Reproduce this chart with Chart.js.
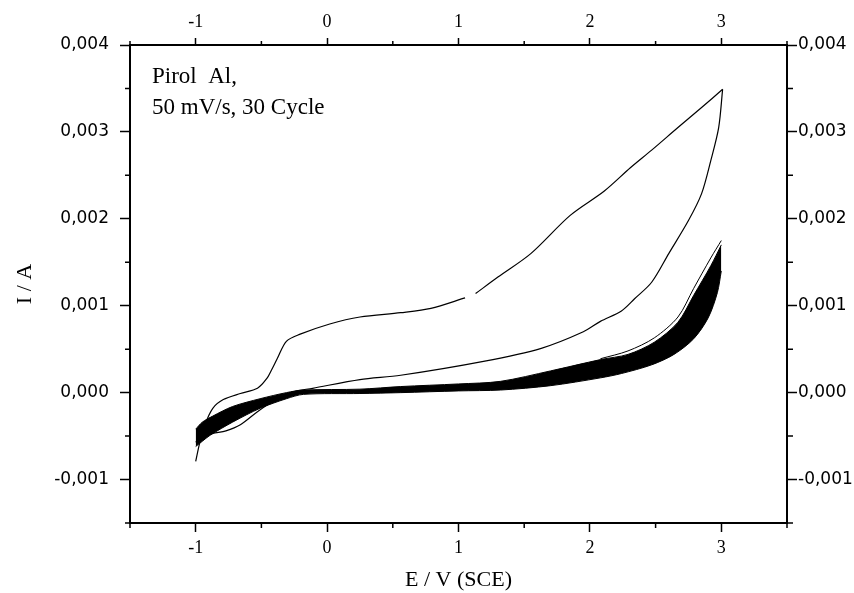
<!DOCTYPE html>
<html>
<head>
<meta charset="utf-8">
<script src="https://cdn.jsdelivr.net/npm/chart.js@4.4.1/dist/chart.umd.min.js"></script>
<style>
  html, body { margin: 0; padding: 0; background: #fff; }
  canvas { display: block; }
</style>
</head>
<body>
<canvas id="cv" width="854" height="593"></canvas>
<script>
// cycle 1, anodic scan (E / V, I / A)
const cycle1FwdE = [-1.00, -0.97, -0.93, -0.87, -0.79, -0.66, -0.53, -0.46, -0.42, -0.38, -0.31, -0.21, 0.02, 0.25, 0.56, 0.79, 1.05, 1.09, 1.13, 1.30, 1.55, 1.85, 2.11, 2.31, 2.47, 2.67, 2.85, 3.01];
const cycle1FwdI = [-0.00079, -0.00058, -0.00037, -0.00018, -0.00008, -0.00001, 0.00005, 0.00016, 0.00027, 0.00039, 0.00059, 0.00067, 0.00079, 0.00087, 0.00092, 0.00097, 0.00109, null, 0.00114, 0.00133, 0.00160, 0.00204, 0.00232, 0.00259, 0.00279, 0.00305, 0.00328, 0.00349];

// cycle 1, return scan
const cycle1RevE = [3.01, 2.98, 2.92, 2.85, 2.75, 2.60, 2.47, 2.34, 2.24, 2.08, 1.95, 1.63, 1.19, 0.56, 0.25, -0.11, -0.26, -0.41, -0.53, -0.66, -0.77, -0.87, -0.95, -1.00];
const cycle1RevI = [0.00349, 0.00305, 0.00267, 0.00229, 0.00198, 0.00160, 0.00127, 0.00108, 0.00094, 0.00082, 0.00070, 0.00051, 0.00036, 0.00020, 0.00015, 0.00005, 0.00001, -0.00010, -0.00022, -0.00037, -0.00044, -0.00047, -0.00051, -0.00057];

// cycle 2, top line of the bundle
const cycle2E = [2.08, 2.29, 2.49, 2.67, 2.79, 2.92, 3.00];
const cycle2I = [0.00039, 0.00048, 0.00063, 0.00087, 0.00120, 0.00155, 0.00175];

// cycles 3..30, upper and lower edge of the bundle
const bundleUpperE = [-1.00, -0.95, -0.87, -0.72, -0.51, -0.31, -0.18, 0.25, 0.56, 1.00, 1.32, 1.70, 2.08, 2.29, 2.49, 2.67, 2.79, 2.92, 3.00];
const bundleUpperI = [-0.00042, -0.00034, -0.00027, -0.00016, -0.00007, 0.00000, 0.00003, 0.00004, 0.00007, 0.00010, 0.00013, 0.00025, 0.00038, 0.00044, 0.00058, 0.00081, 0.00112, 0.00146, 0.00170];
const bundleLowerE = [-1.00, -0.95, -0.89, -0.72, -0.51, -0.31, -0.18, 0.25, 0.56, 1.00, 1.32, 1.70, 2.08, 2.24, 2.47, 2.64, 2.79, 2.90, 2.97, 3.00];
const bundleLowerI = [-0.00062, -0.00056, -0.00049, -0.00034, -0.00018, -0.00007, -0.00002, -0.00001, 0.00000, 0.00002, 0.00003, 0.00008, 0.00017, 0.00022, 0.00032, 0.00044, 0.00062, 0.00086, 0.00115, 0.00140];

// labelled ticks
const xTicks = [-1, 0, 1, 2, 3];
const yTicks = [-0.001, 0, 0.001, 0.002, 0.003, 0.004];

const noteLines = ['Pirol  Al,', '50 mV/s, 30 Cycle'];

const toPoints = (e, i) => e.map((x, k) => ({x: x, y: i[k]}));

const serif = '"Liberation Serif", "Times New Roman", serif';
const sans = '"DejaVu Sans", sans-serif';

const line = (pts, extra) => Object.assign({
  data: pts,
  borderColor: '#000',
  borderWidth: 1.2,
  pointRadius: 0,
  tension: 0.3,
  fill: false,
  spanGaps: false,
}, extra);

const fmtI = (v) => v.toFixed(3).replace('.', ',');

const xAxis = (pos, tl, pad) => ({
  type: 'linear',
  position: pos,
  min: -1.5,
  max: 3.5,
  afterBuildTicks: (s) => { s.ticks = xTicks.map((v) => ({ value: v })); },
  border: { display: true, color: '#000', width: 2 },
  grid: { drawOnChartArea: false, drawTicks: true, tickLength: tl, tickColor: '#000', tickWidth: 1.5 },
  ticks: {
    stepSize: 1,
    maxRotation: 0,
    autoSkip: false,
    padding: pad,
    color: '#000',
    font: { family: serif, size: 18 },
    callback: (v) => String(v),
  },
});

const yAxis = (pos, pad) => ({
  type: 'linear',
  position: pos,
  min: -0.0015,
  max: 0.004,
  afterBuildTicks: (s) => { s.ticks = yTicks.map((v) => ({ value: v })); },
  border: { display: true, color: '#000', width: 2 },
  grid: { drawOnChartArea: false, drawTicks: true, tickLength: 10, tickColor: '#000', tickWidth: 1.5 },
  ticks: {
    stepSize: 0.001,
    autoSkip: false,
    padding: pad,
    color: '#000',
    font: { family: sans, size: 17 },
    callback: fmtI,
  },
});

const scales = {
  x: xAxis('bottom', 9, 5),
  x2: xAxis('top', 7, 5),
  y: yAxis('left', 11),
  y2: yAxis('right', 1),
};
scales.x.title = { display: true, text: 'E / V (SCE)', color: '#000', font: { family: serif, size: 22 }, padding: { top: 0, bottom: 0 } };
scales.y.title = { display: true, text: 'I / A', color: '#000', font: { family: serif, size: 22 }, padding: { top: 12, bottom: 0 } };
scales.x.afterFit = (s) => { s.height = 70; };
scales.x2.afterFit = (s) => { s.height = 45; };
scales.y.afterFit = (s) => { s.width = 130; };
scales.y2.afterFit = (s) => { s.width = 67; };

// half-step ticks, shorter than the labelled ones
const minorTicks = {
  id: 'minorTicks',
  afterDraw(chart) {
    const ctx = chart.ctx;
    ctx.save();
    ctx.strokeStyle = '#000';
    ctx.lineWidth = 1.5;
    ctx.beginPath();
    Object.values(chart.scales).forEach((s) => {
      const step = s.options.ticks.stepSize / 2;
      const k0 = Math.round(s.min / step), k1 = Math.round(s.max / step);
      for (let k = k0; k <= k1; k++) {
        if (k % 2 === 0) continue;
        const p = s.getPixelForValue(k * step);
        if (s.position === 'bottom') { ctx.moveTo(p, s.top); ctx.lineTo(p, s.top + 5); }
        if (s.position === 'top') { ctx.moveTo(p, s.bottom); ctx.lineTo(p, s.bottom - 4); }
        if (s.position === 'left') { ctx.moveTo(s.right, p); ctx.lineTo(s.right - 5, p); }
        if (s.position === 'right') { ctx.moveTo(s.left, p); ctx.lineTo(s.left + 6, p); }
      }
    });
    ctx.stroke();
    ctx.restore();
  }
};

const note = {
  id: 'note',
  afterDraw(chart) {
    const { ctx, chartArea } = chart;
    ctx.save();
    ctx.font = '23px ' + serif;
    ctx.fillStyle = '#000';
    ctx.textBaseline = 'alphabetic';
    noteLines.forEach((t, k) => ctx.fillText(t, chartArea.left + 22, chartArea.top + 38 + k * 31));
    ctx.restore();
  }
};

new Chart(document.getElementById('cv'), {
  type: 'line',
  data: {
    datasets: [
      line(toPoints(bundleLowerE, bundleLowerI), { borderWidth: 1 }),
      line(toPoints(bundleUpperE, bundleUpperI), { borderWidth: 1, fill: '-1', backgroundColor: '#000' }),
      line(toPoints(cycle2E, cycle2I), { borderWidth: 1 }),
      line(toPoints(cycle1RevE, cycle1RevI)),
      line(toPoints(cycle1FwdE, cycle1FwdI)),
    ],
  },
  options: {
    responsive: false,
    animation: false,
    layout: { padding: 0 },
    plugins: { legend: { display: false }, tooltip: { enabled: false } },
    scales: scales,
  },
  plugins: [minorTicks, note],
});
</script>
</body>
</html>
